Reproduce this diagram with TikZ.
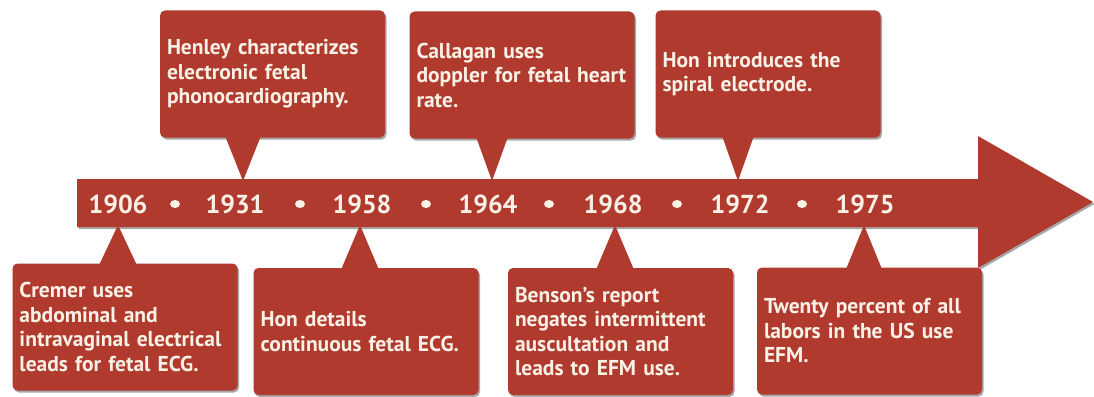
\documentclass[tikz,border=0pt]{standalone}
\usepackage{fontspec}
\setmainfont{PT Sans}
\usetikzlibrary{shadows,shapes.geometric}
\definecolor{brick}{RGB}{176,58,46}
\definecolor{cream}{RGB}{250,241,230}
\begin{document}
\begin{tikzpicture}[x=1pt,y=-1pt,
  softshadow/.style={drop shadow={shadow xshift=1.5pt, shadow yshift=-2pt, opacity=0.35, fill=black}},
  callout/.style={rectangle, rounded corners=5pt, fill=brick, minimum width=225pt, minimum height=127pt,
    text width=211pt, inner sep=0pt, align=left, text=cream,
    font=\bfseries\fontsize{21.5}{24.5}\selectfont, softshadow},
  year/.style={text=cream, font=\bfseries\fontsize{26}{30}\selectfont, inner sep=0pt},
  dotmark/.style={ellipse, fill=cream, minimum width=10pt, minimum height=8pt, inner sep=0pt},
  pointer/.style={fill=brick}
]
\useasboundingbox (0,0) rectangle (1094,396);
\fill[white] (0,0) rectangle (1094,396);

% timeline arrow
\path[fill=brick, softshadow] (77,179) -- (978,179) -- (978,136) -- (1093,202) -- (978,268) -- (978,227) -- (77,227) -- cycle;

% years
\node[year] (y1906) at (118,204) {1906};
\node[year] (y1931) at (235,204) {1931};
\node[year] (y1958) at (362,204) {1958};
\node[year] (y1964) at (488,204) {1964};
\node[year] (y1968) at (613,204) {1968};
\node[year] (y1972) at (740,204) {1972};
\node[year] (y1975) at (865,204) {1975};
\node[dotmark] (d1) at (175,204) {};
\node[dotmark] (d2) at (300,204) {};
\node[dotmark] (d3) at (426,204) {};
\node[dotmark] (d4) at (549,204) {};
\node[dotmark] (d5) at (677,204) {};
\node[dotmark] (d6) at (802,204) {};

% callouts
\node[callout] (henley) at (272.5,74) {Henley characterizes\\electronic fetal\\phonocardiography.};
\node[callout] (callagan) at (522,75) {Callagan uses\\doppler for fetal heart\\rate.};
\node[callout] (spiral) at (768,74) {Hon introduces the\\spiral electrode.};
\node[callout] (cremer) at (125,327) {Cremer uses\\abdominal and\\intravaginal electrical\\leads for fetal ECG.};
\node[callout] (details) at (366,331.5) {Hon details\\continuous fetal ECG.};
\node[callout] (benson) at (620.5,331.5) {Benson's report\\negates intermittent\\auscultation and\\leads to EFM use.};
\node[callout] (twenty) at (869.5,331) {Twenty percent of all\\labors in the US use\\EFM.};

% pointer tips
\coordinate (p1) at (243,181);
\coordinate (p2) at (492,181);
\coordinate (p3) at (738,181);
\coordinate (q1) at (118,225);
\coordinate (q2) at (360,225);
\coordinate (q3) at (615,225);
\coordinate (q4) at (864,225);

% pointers (box -> timeline)
\fill[pointer] ([xshift=-18pt,yshift=2pt]p1 |- henley.south) -- (p1) -- ([xshift=18pt,yshift=2pt]p1 |- henley.south) -- cycle;
\fill[pointer] ([xshift=-16pt,yshift=2pt]p2 |- callagan.south) -- (p2) -- ([xshift=16pt,yshift=2pt]p2 |- callagan.south) -- cycle;
\fill[pointer] ([xshift=-16pt,yshift=2pt]p3 |- spiral.south) -- (p3) -- ([xshift=16pt,yshift=2pt]p3 |- spiral.south) -- cycle;
\fill[pointer] ([xshift=-19pt,yshift=-2pt]q1 |- cremer.north) -- (q1) -- ([xshift=19pt,yshift=-2pt]q1 |- cremer.north) -- cycle;
\fill[pointer] ([xshift=-19pt,yshift=-2pt]q2 |- details.north) -- (q2) -- ([xshift=19pt,yshift=-2pt]q2 |- details.north) -- cycle;
\fill[pointer] ([xshift=-19pt,yshift=-2pt]q3 |- benson.north) -- (q3) -- ([xshift=19pt,yshift=-2pt]q3 |- benson.north) -- cycle;
\fill[pointer] ([xshift=-18pt,yshift=-2pt]q4 |- twenty.north) -- (q4) -- ([xshift=18pt,yshift=-2pt]q4 |- twenty.north) -- cycle;
\end{tikzpicture}
\end{document}
